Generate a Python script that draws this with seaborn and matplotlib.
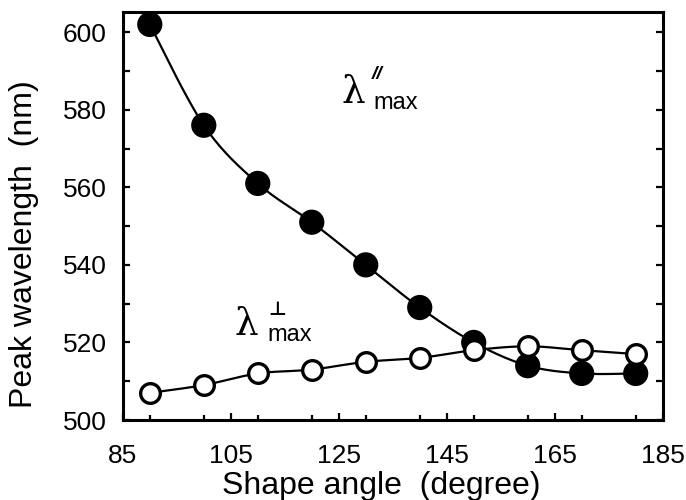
import numpy as np
import matplotlib
matplotlib.use("Agg")
import matplotlib.pyplot as plt
import seaborn as sns
from matplotlib.ticker import MultipleLocator

# Shape angle (degree) and peak wavelengths (nm)
angle = [90, 100, 110, 120, 130, 140, 150, 160, 170, 180]
peak_parallel = [602, 576, 561, 551, 540, 529, 520, 514, 512, 512]
peak_perp = [507, 509, 512, 513, 515, 516, 518, 519, 518, 517]

x_ticks = [85, 105, 125, 145, 165, 185]
y_ticks = [500, 520, 540, 560, 580, 600]

sns.set_theme(style="ticks")
plt.rcParams["font.family"] = ["Liberation Sans", "DejaVu Sans"]


def smooth(xs, ys, n=30):
    """Catmull-Rom style Bezier curve through the given points."""
    p = np.column_stack([xs, ys]).astype(float)
    ext = np.vstack([p[0], p, p[-1]])
    out = []
    t = np.linspace(0, 1, n)[:, None]
    for i in range(1, len(ext) - 2):
        p0, p1, p2, p3 = ext[i - 1], ext[i], ext[i + 1], ext[i + 2]
        c1 = p1 + (p2 - p0) / 6.0
        c2 = p2 - (p3 - p1) / 6.0
        seg = ((1 - t) ** 3) * p1 + 3 * ((1 - t) ** 2) * t * c1 \
            + 3 * (1 - t) * t ** 2 * c2 + t ** 3 * p2
        out.append(seg if i == 1 else seg[1:])
    c = np.vstack(out)
    return c[:, 0], c[:, 1]


fig = plt.figure(figsize=(6.86, 5.0), dpi=100)
ax = fig.add_axes([0.179, 0.16, 0.787, 0.816])

for ys in (peak_parallel, peak_perp):
    sx, sy = smooth(angle, ys)
    ax.plot(sx, sy, color="black", lw=1.6, zorder=2)

sns.scatterplot(x=angle, y=peak_parallel, ax=ax, s=330, color="black",
                edgecolor="none", zorder=3)
sns.scatterplot(x=angle, y=peak_perp, ax=ax, s=200, color="white",
                edgecolor="black", linewidth=2.4, zorder=4)

ax.set_xlim(85, 185)
ax.set_ylim(500, 605.2)
ax.set_xticks(x_ticks)
ax.set_yticks(y_ticks)
ax.xaxis.set_minor_locator(MultipleLocator(10))
ax.yaxis.set_minor_locator(MultipleLocator(10))

for side in ("left", "right", "top", "bottom"):
    ax.spines[side].set_visible(True)
    ax.spines[side].set_linewidth(2.2)
    ax.spines[side].set_color("black")

ax.tick_params(axis="both", which="both", direction="in", color="black",
               width=1.6, labelsize=19, labelcolor="black")
ax.tick_params(axis="y", which="both", right=True, length=5)
ax.tick_params(axis="x", which="major", length=5, pad=17)
ax.tick_params(axis="x", which="minor", length=3.5)
ax.tick_params(axis="y", which="major", pad=11.5)

ax.set_xlabel("Shape angle  (degree)", fontsize=23, color="black")
ax.set_ylabel("Peak wavelength  (nm)", fontsize=23, color="black")
ax.xaxis.set_label_coords(0.478, -0.125)
ax.yaxis.set_label_coords(-0.155, 0.431)

# Series labels: lambda with "max" subscript and polarisation mark
lam = dict(family="DejaVu Serif", fontsize=27, color="black",
           ha="left", va="baseline")
sub = dict(family="Liberation Sans", fontsize=17, color="black",
           ha="left", va="baseline")

ax.text(125.5, 581.7, "\u03bb", **lam)
ax.text(131.5, 580.2, "max", **sub)
ax.text(131.1, 587.8, "//", family="Liberation Sans", style="italic",
        fontweight="bold", fontsize=14, color="black",
        ha="left", va="baseline")

ax.text(105.6, 521.9, "\u03bb", **lam)
ax.text(111.7, 520.4, "max", **sub)
ax.text(111.9, 527.2, "\u22a5", family="DejaVu Sans", fontweight="bold",
        fontsize=14, color="black", ha="left", va="baseline")

fig.savefig("out.png", dpi=100)
